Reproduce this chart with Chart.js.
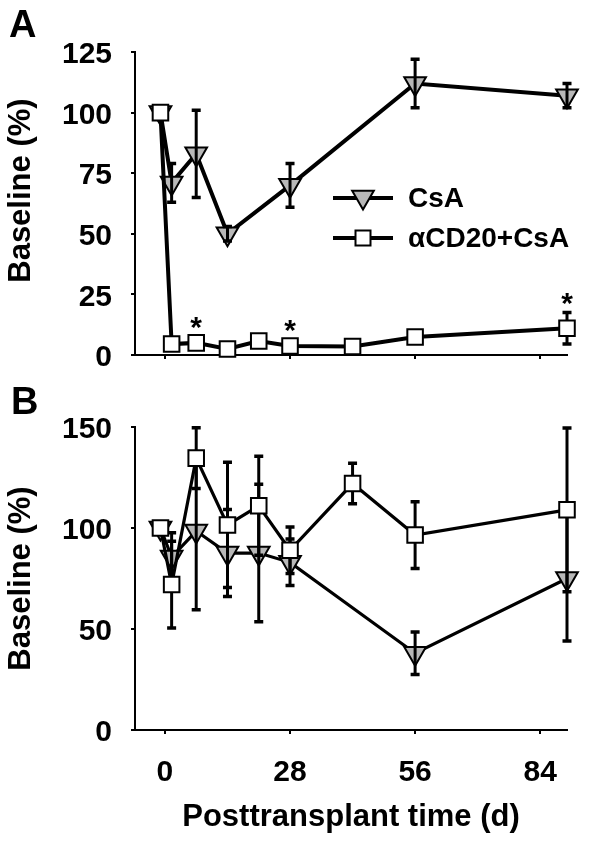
<!DOCTYPE html>
<html><head><meta charset="utf-8">
<script src="https://cdn.jsdelivr.net/npm/chart.js@4"></script>
<style>
html,body{margin:0;padding:0;background:#fff;}
#wrap{position:relative;width:593px;height:841px;overflow:hidden;}
canvas{position:absolute;left:0;}
#cA{top:0;} #cB{top:380px;}
.lab{position:absolute;font:bold 38px "Liberation Sans",Arial,sans-serif;line-height:1;color:#000;}
</style></head>
<body><div id="wrap">
<canvas id="cA" width="593" height="380"></canvas>
<canvas id="cB" width="593" height="461"></canvas>
<div class="lab" style="left:9px;top:5px;">A</div>
<div class="lab" style="left:11px;top:382px;">B</div>
</div>
<script>
// ---------- data ----------
const dayTicks = [0, 28, 56, 84];
const aYTicks = [0, 25, 50, 75, 100, 125];
const bYTicks = [0, 50, 100, 150];
const seriesNames = ['CsA', 'αCD20+CsA'];

// Panel A
const aCsaDays = [-1, 1.5, 7, 14, 28, 56, 90];
const aCsaVals = [100, 71, 83, 50, 70, 112, 107];
const aCsaErr  = [0, 8, 18, 3, 9, 10, 5];
const aCd20Days = [-1, 1.5, 7, 14, 21, 28, 42, 56, 90];
const aCd20Vals = [100, 4.5, 5, 2.5, 5.8, 3.7, 3.5, 7.4, 11];
const aCd20Err  = [0, 1, 1, 1, 1, 1, 1, 1, 6.5];
const aStarDays = [7, 28, 90];

// Panel B
const bCsaDays = [-1, 1.5, 7, 14, 21, 28, 56, 90];
const bCsaVals = [100, 85.6, 98.5, 87.6, 87.6, 83, 38, 75];
const bCsaErr  = [0, 12, 39, 21.5, 34, 11.5, 10.5, 31];
const bCd20Days = [-1, 1.5, 7, 14, 21, 28, 42, 56, 90];
const bCd20Vals = [100, 72, 134.6, 101.5, 111, 89, 122, 96.5, 109];
const bCd20Err  = [0, 21.5, 15, 31, 24.5, 11.5, 10, 16.5, 40.5];

// ---------- setup ----------
const FONT = '"Liberation Sans", Arial, Helvetica, sans-serif';
Chart.defaults.font.family = FONT;
Chart.defaults.font.weight = 'bold';
Chart.defaults.color = '#000';

const pts = (d, v) => d.map((x, i) => ({x: x, y: v[i]}));

// error bars: drawn after the triangle series, before the square series
const errorBars = {
  id: 'errorBars',
  afterDatasetDraw(chart, args, opts) {
    if (args.index !== 1) return;
    const ctx = chart.ctx, xs = chart.scales.x, ys = chart.scales.y;
    ctx.save();
    ctx.strokeStyle = '#000';
    chart.data.datasets.forEach(ds => {
      ds.data.forEach((p, j) => {
        const e = ds.err[j];
        if (!e) return;
        const x = xs.getPixelForValue(p.x);
        const y1 = ys.getPixelForValue(p.y + e), y2 = ys.getPixelForValue(p.y - e);
        ctx.lineWidth = 3;
        ctx.beginPath(); ctx.moveTo(x, y1); ctx.lineTo(x, y2); ctx.stroke();
        ctx.lineWidth = 3.5;
        ctx.beginPath();
        ctx.moveTo(x - 4.5, y1); ctx.lineTo(x + 4.5, y1);
        ctx.moveTo(x - 4.5, y2); ctx.lineTo(x + 4.5, y2);
        ctx.stroke();
      });
    });
    ctx.restore();
  }
};

const stars = {
  id: 'stars',
  afterDatasetsDraw(chart, args, opts) {
    if (!opts.days) return;
    const ctx = chart.ctx, xs = chart.scales.x, ys = chart.scales.y;
    const ds = chart.data.datasets[0];
    ctx.save();
    ctx.fillStyle = '#000';
    ctx.font = 'bold 30px ' + FONT;
    ctx.textAlign = 'center';
    ctx.textBaseline = 'alphabetic';
    opts.days.forEach(d => {
      const j = ds.data.findIndex(p => p.x === d);
      if (j < 0) return;
      const p = ds.data[j];
      const top = Math.min(ys.getPixelForValue(p.y + ds.err[j]) - 2, ys.getPixelForValue(p.y) - 8);
      const cy = top - 15;
      ctx.fillText('*', xs.getPixelForValue(p.x), cy + 17);
    });
    ctx.restore();
  }
};

function drawTri(ctx, x, y, r) {
  ctx.beginPath();
  ctx.moveTo(x, y + r);
  ctx.lineTo(x - 0.866 * r, y - 0.5 * r);
  ctx.lineTo(x + 0.866 * r, y - 0.5 * r);
  ctx.closePath();
  ctx.fillStyle = '#b8b8b8'; ctx.fill();
  ctx.lineWidth = 2; ctx.strokeStyle = '#000'; ctx.stroke();
}
function drawSq(ctx, x, y, s) {
  ctx.fillStyle = '#fff';
  ctx.fillRect(x - s / 2, y - s / 2, s, s);
  ctx.lineWidth = 2; ctx.strokeStyle = '#000';
  ctx.strokeRect(x - s / 2, y - s / 2, s, s);
}

const legendBox = {
  id: 'legendBox',
  afterDraw(chart, args, opts) {
    if (!opts.show) return;
    const ctx = chart.ctx;
    ctx.save();
    const rows = [198, 238];
    rows.forEach((y, i) => {
      ctx.strokeStyle = '#000'; ctx.lineWidth = 4;
      ctx.beginPath(); ctx.moveTo(333, y); ctx.lineTo(393, y); ctx.stroke();
      if (i === 0) drawTri(ctx, 363, y - 1, 12.5); else drawSq(ctx, 363, y, 15);
      ctx.fillStyle = '#000';
      ctx.font = 'bold 28px ' + FONT;
      ctx.textAlign = 'left'; ctx.textBaseline = 'middle';
      ctx.fillText(seriesNames[i], 408, y + 1);
    });
    ctx.restore();
  }
};

function squareDs(days, vals, err, lw) {
  return {label: seriesNames[1], data: pts(days, vals), err: err,
    borderColor: '#000', borderWidth: lw, pointStyle: 'rect', pointRadius: 11,
    pointBackgroundColor: '#fff', pointBorderColor: '#000', pointBorderWidth: 2,
    tension: 0, clip: false};
}
function triDs(days, vals, err, lw) {
  return {label: seriesNames[0], data: pts(days, vals), err: err,
    borderColor: '#000', borderWidth: lw, pointStyle: 'triangle', pointRotation: 180, pointRadius: 12.5,
    pointBackgroundColor: '#b8b8b8', pointBorderColor: '#000', pointBorderWidth: 2,
    tension: 0, clip: false};
}

function makeChart(id, dsets, yMax, yTicks, opt) {
  return new Chart(document.getElementById(id), {
    type: 'line',
    data: {datasets: dsets},
    options: {
      responsive: false, animation: false, events: [],
      layout: {padding: {left: 0, top: opt.top, right: 26, bottom: opt.pb}},
      plugins: {legend: {display: false}, tooltip: {enabled: false},
        stars: {days: opt.stars}, legendBox: {show: opt.legend}},
      scales: {
        x: {
          type: 'linear', min: -6.7, max: 90,
          afterBuildTicks: s => { s.ticks = dayTicks.map(v => ({value: v})); },
          afterFit: s => { s.height = opt.xh; s.paddingLeft = 0; s.paddingRight = 0; },
          ticks: {display: opt.xlabels, font: {size: 30, weight: 'bold'}, padding: 21, maxRotation: 0, autoSkip: false},
          grid: {drawOnChartArea: false, drawTicks: true, tickLength: 4, color: '#000', lineWidth: 2},
          border: {display: true, color: '#000', width: 2},
          title: {display: opt.xlabels, text: 'Posttransplant time (d)', font: {size: 31, weight: 'bold'}, padding: {top: 0, bottom: 1}}
        },
        y: {
          min: 0, max: yMax,
          afterBuildTicks: s => { s.ticks = yTicks.map(v => ({value: v})); },
          afterFit: s => { s.width = 135; s.paddingTop = 0; s.paddingBottom = 0; },
          ticks: {font: {size: 30, weight: 'bold'}, padding: 19, labelOffset: 3},
          grid: {drawOnChartArea: false, drawTicks: true, tickLength: 4, color: '#000', lineWidth: 2},
          border: {display: true, color: '#000', width: 2},
          title: {display: true, text: opt.ytitle, font: {size: 31, weight: 'bold'}, padding: {top: 3, bottom: 0}}
        }
      }
    },
    plugins: [errorBars, stars, legendBox]
  });
}

makeChart('cA', [squareDs(aCd20Days, aCd20Vals, aCd20Err, 4), triDs(aCsaDays, aCsaVals, aCsaErr, 4)],
  125, aYTicks, {top: 52, pb: 0, xh: 25, xlabels: false, stars: aStarDays, legend: true, ytitle: '   Baseline (%)'});
makeChart('cB', [squareDs(bCd20Days, bCd20Vals, bCd20Err, 3.2), triDs(bCsaDays, bCsaVals, bCsaErr, 3.2)],
  150, bYTicks, {top: 47, pb: 4, xh: 107, xlabels: true, stars: null, legend: false, ytitle: 'Baseline (%)'});
</script>
</body></html>
